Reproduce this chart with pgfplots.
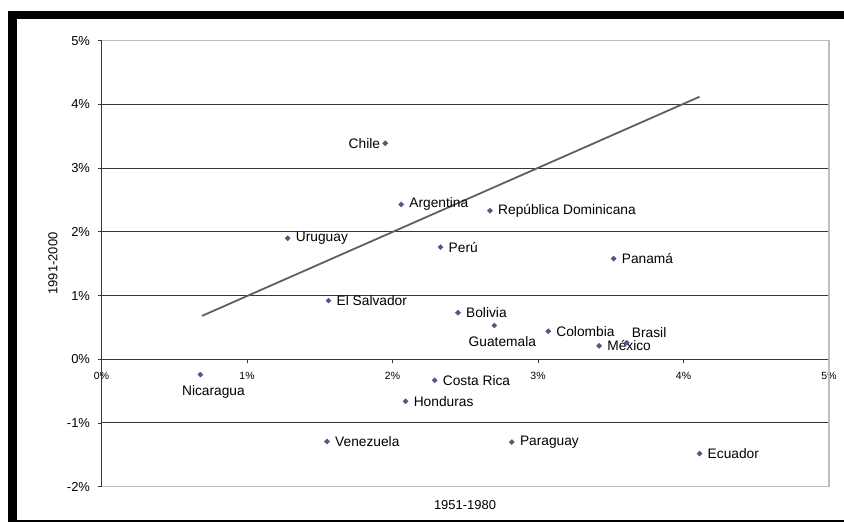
\documentclass[border=0pt]{standalone}
\usepackage{pgfplots}
\pgfplotsset{compat=1.18}
\usepackage{fontspec}
\setmainfont{Liberation Sans}
\definecolor{markcol}{RGB}{90,84,130}
\definecolor{gridcol}{RGB}{55,55,55}
\definecolor{boxcol}{RGB}{190,190,190}
\definecolor{trendcol}{RGB}{95,95,95}

\pgfplotsset{
  pts/.style={only marks, mark=square*, mark size=1.8bp, color=markcol,
    mark options={rotate=45},
    point meta=explicit symbolic, nodes near coords,
    every node near coord/.append style={inner sep=0pt, text=black,
      font=\fontsize{13.8}{15}\selectfont}},
}

\begin{document}
\begin{tikzpicture}[x=1bp,y=1bp]
\useasboundingbox (0,0) rectangle (844,522);
% frame
\fill[black] (8.3,0) rectangle (16.7,511);
\fill[black] (8.3,503) rectangle (844,511);
\fill[black] (8.3,0) rectangle (844,1.8);

\begin{axis}[
  at={(101.5bp,35.3bp)}, anchor=south west,
  scale only axis, width=727.5bp, height=446bp,
  xmin=0, xmax=5, ymin=-2, ymax=5,
  axis x line=middle, axis y line=left,
  axis line style={-, draw=gridcol, line width=1bp},
  hide obscured x ticks=false, hide obscured y ticks=false,
  xtick={0,1,2,3,4,5}, xticklabels={0\%,1\%,2\%,3\%,4\%,5\%},
  ytick={-2,-1,0,1,2,3,4,5}, yticklabels={-2\%,-1\%,0\%,1\%,2\%,3\%,4\%,5\%},
  ymajorgrids, grid style={gridcol, line width=1bp},
  tick style={gridcol, line width=0.8bp},
  major tick length=4bp, tick align=outside,
  xticklabel style={font=\fontsize{10.5}{12}\selectfont, yshift=-5bp},
  yticklabel style={font=\fontsize{13}{14}\selectfont, xshift=-4bp},
  clip=false,
]
\addplot[trendcol, line width=1.8bp] coordinates {(0.69,0.68) (4.11,4.12)};
% labels to the right of the marker
\addplot[pts, every node near coord/.append style={anchor=west, xshift=8bp}] coordinates {
  (1.28,1.90) [Uruguay]
  (1.56,0.92) [El Salvador]
  (1.55,-1.29) [Venezuela]
  (2.06,2.43) [Argentina]
  (2.09,-0.66) [Honduras]
  (2.29,-0.33) [Costa Rica]
  (2.33,1.76) [Perú]
  (2.45,0.73) [Bolivia]
  (2.67,2.33) [República Dominicana]
  (2.82,-1.30) [Paraguay]
  (3.07,0.44) [Colombia]
  (3.42,0.21) [México]
  (3.52,1.58) [Panamá]
  (4.11,-1.48) [Ecuador]
};
% label to the left
\addplot[pts, every node near coord/.append style={anchor=east, xshift=-5bp}] coordinates {
  (1.95,3.39) [Chile]
};
% labels below
\addplot[pts, every node near coord/.append style={anchor=north, xshift=13bp, yshift=-11bp}] coordinates {
  (0.68,-0.24) [Nicaragua]
};
\addplot[pts, every node near coord/.append style={anchor=north, xshift=8bp, yshift=-11bp}] coordinates {
  (2.70,0.53) [Guatemala]
};
% label above right
\addplot[pts, every node near coord/.append style={anchor=west, xshift=5bp, yshift=10bp}] coordinates {
  (3.61,0.26) [Brasil]
};
\draw[boxcol, line width=1.5bp] (rel axis cs:0,1) -- (rel axis cs:1,1) -- (rel axis cs:1,0) -- (rel axis cs:0,0);
\draw[gridcol, line width=1bp] (rel axis cs:0,0) -- (rel axis cs:0,1);
\end{axis}

\node[font=\fontsize{13}{14}\selectfont] at (465,17) {1951-1980};
\node[rotate=90, font=\fontsize{13}{14}\selectfont] at (53,258.5) {1991-2000};
\end{tikzpicture}
\end{document}
